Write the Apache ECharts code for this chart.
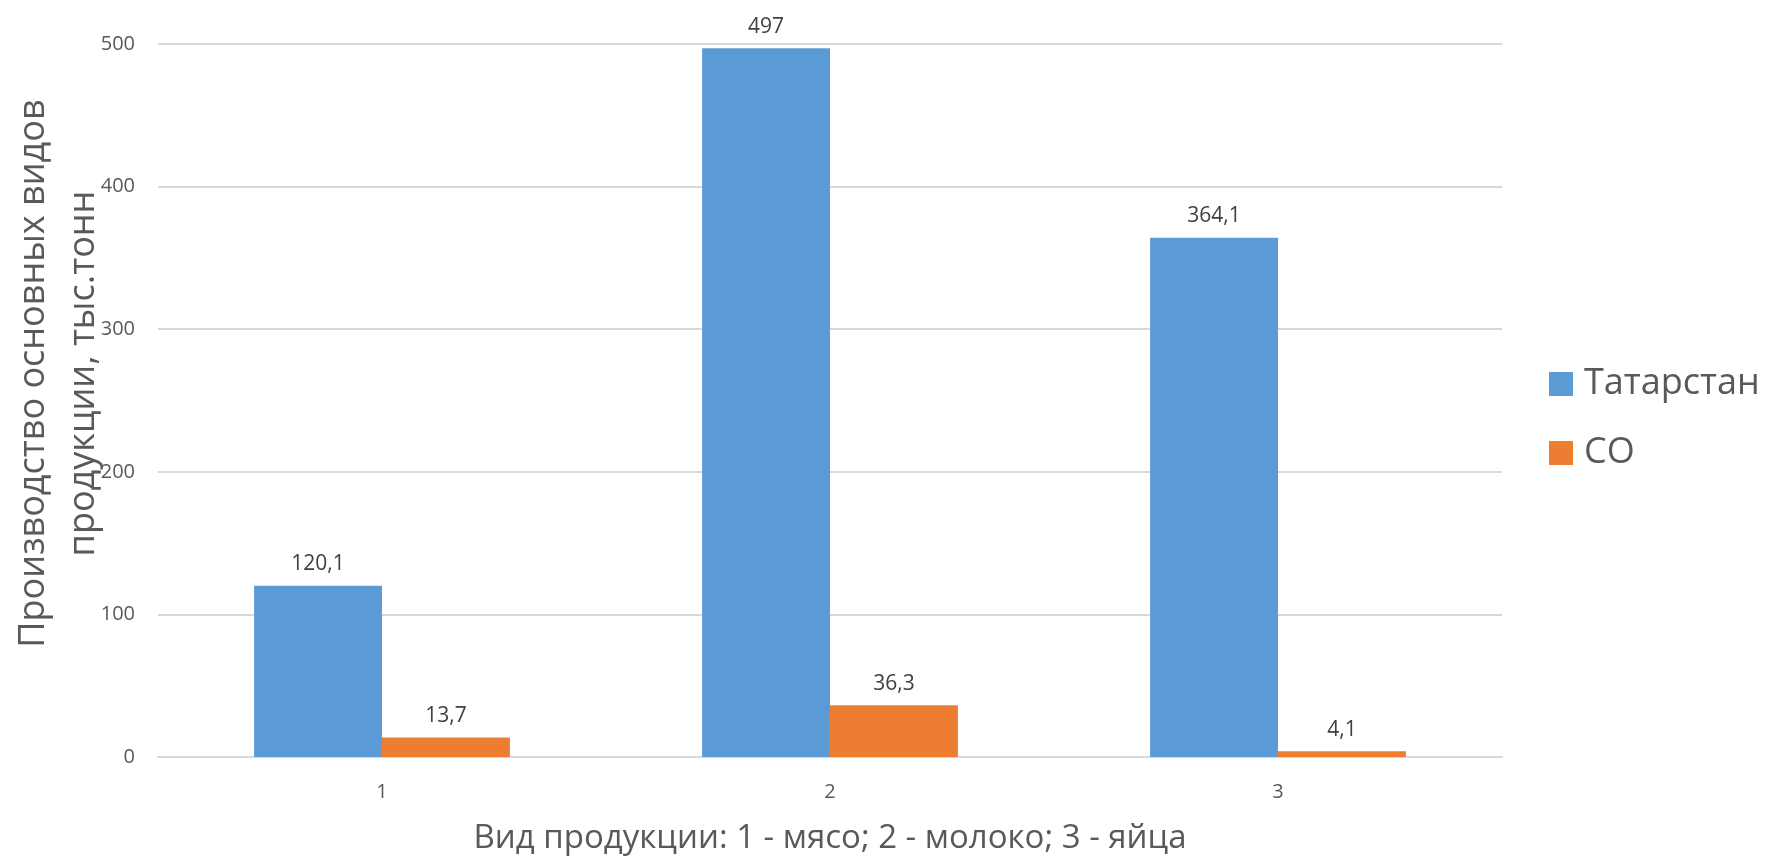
<!DOCTYPE html>
<html>
<head>
<meta charset="utf-8">
<script src="https://cdn.jsdelivr.net/npm/echarts@6/dist/echarts.min.js"></script>
<style>
html,body{margin:0;padding:0;background:#fff;}
#chart{width:1765px;height:856px;}
</style>
</head>
<body>
<div id="chart"></div>
<script>
const categories = ['1', '2', '3'];
const seriesNames = ['Татарстан', 'СО'];
const tatarstan = [120.1, 497, 364.1];
const so = [13.7, 36.3, 4.1];
const yTicks = [0, 100, 200, 300, 400, 500];
const xTitle = 'Вид продукции: 1 - мясо; 2 - молоко; 3 - яйца';
const yTitle = 'Производство основных видов\nпродукции, тыс.тонн';

const FONT = 'Open Sans';
const TXT = '#595959';
const chart = echarts.init(document.getElementById('chart'));
const fmt = p => String(p.value).replace('.', ',');
const labelCfg = {show: true, position: 'top', distance: 11, formatter: fmt,
  color: '#404040', fontFamily: FONT, fontSize: 21};
chart.setOption({
  animation: false,
  textStyle: {fontFamily: FONT},
  grid: {left: 158, right: 263, top: 44, bottom: 99, containLabel: false, outerBoundsMode: 'none'},
  legend: {
    orient: 'vertical', left: 1549, top: 364, padding: 0,
    itemWidth: 24, itemHeight: 24, itemGap: 29,
    icon: 'rect',
    textStyle: {color: TXT, fontFamily: FONT, fontSize: 36, lineHeight: 40, padding: [0,0,0,6]},
    data: seriesNames
  },
  xAxis: {
    type: 'category', data: categories,
    name: xTitle, nameLocation: 'middle', nameGap: 65, nameMoveOverlap: false,
    nameTextStyle: {color: TXT, fontFamily: FONT, fontSize: 33},
    axisLine: {lineStyle: {color: '#D9D9D9', width: 2}},
    axisTick: {show: false},
    axisLabel: {color: TXT, fontFamily: FONT, fontSize: 20, margin: 25}
  },
  yAxis: {
    type: 'value', min: yTicks[0], max: yTicks[yTicks.length - 1], interval: 100,
    name: yTitle, nameLocation: 'middle', nameGap: 49, nameRotate: 90, nameMoveOverlap: false,
    nameTextStyle: {color: TXT, fontFamily: FONT, fontSize: 36, lineHeight: 50, padding: [0,0,0,54]},
    axisLine: {show: false}, axisTick: {show: false},
    splitLine: {lineStyle: {color: '#D9D9D9', width: 2}},
    axisLabel: {color: TXT, fontFamily: FONT, fontSize: 20, margin: 23}
  },
  series: [
    {name: seriesNames[0], type: 'bar', data: tatarstan, barGap: '0%', barCategoryGap: '42.9%',
     itemStyle: {color: '#5B9BD5'}, label: labelCfg},
    {name: seriesNames[1], type: 'bar', data: so, barGap: '0%', barCategoryGap: '42.9%',
     itemStyle: {color: '#ED7D31'}, label: labelCfg}
  ]
});
</script>
</body>
</html>
